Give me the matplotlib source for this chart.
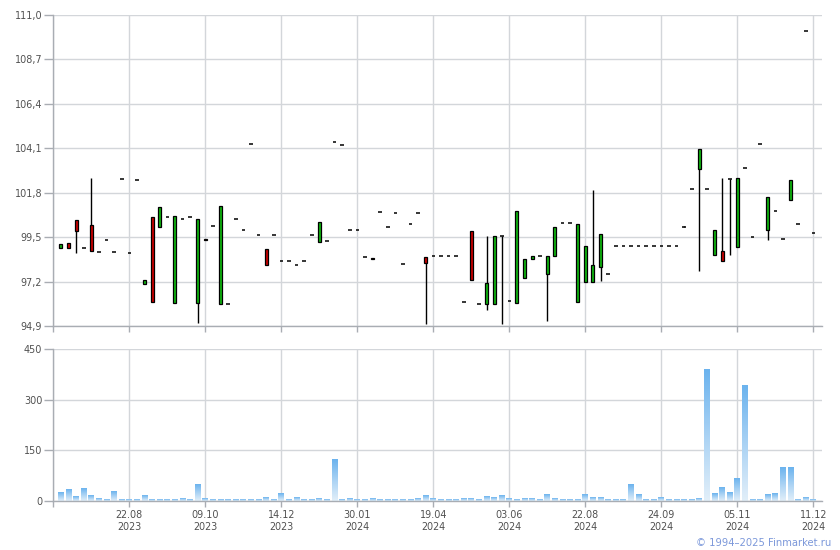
import numpy as np
import matplotlib
matplotlib.use("Agg")
import matplotlib.pyplot as plt
from matplotlib.colors import LinearSegmentedColormap

# ---------------- data ----------------
opens = [98.93, 99.19, 100.38, 98.93, 100.12, 98.72, 99.36, 98.72, 102.50, 98.67,
         102.45, 97.07, 100.53, 100.02, 100.53, 96.09, 100.43, 100.53, 96.09, 99.40,
         100.07, 96.04, 96.04, 100.43, 99.88, 104.31, 99.60, 98.88, 99.60, 98.26,
         98.26, 98.05, 98.26, 99.60, 99.24, 99.29, 104.41, 104.25, 99.86, 99.86,
         98.46, 98.42, 100.79, 100.02, 100.74, 98.14, 100.17, 100.74, 98.47, 98.52,
         98.55, 98.55, 98.55, 96.14, 99.81, 96.04, 96.04, 96.04, 99.59, 96.19,
         96.09, 97.38, 98.36, 98.55, 97.59, 98.55, 100.22, 100.22, 96.14, 97.17,
         97.17, 97.95, 97.59, 99.03, 99.03, 99.03, 99.03, 99.03, 99.03, 99.03,
         99.03, 99.03, 100.05, 102.00, 103.01, 102.00, 98.57, 98.78, 102.50, 98.98,
         103.07, 99.50, 104.31, 99.86, 100.84, 99.40, 101.41, 100.17, 110.14, 99.71]
highs = [99.14, 99.19, 100.38, 98.93, 102.55, 98.72, 99.36, 98.72, 102.50, 98.67,
         102.45, 97.28, 100.53, 101.05, 100.53, 100.62, 100.43, 100.53, 100.43, 99.40,
         100.07, 101.10, 96.04, 100.43, 99.88, 104.31, 99.60, 98.88, 99.60, 98.26,
         98.26, 98.05, 98.26, 99.60, 100.27, 99.29, 104.41, 104.25, 99.86, 99.86,
         98.46, 98.42, 100.79, 100.02, 100.74, 98.14, 100.17, 100.74, 98.47, 98.52,
         98.55, 98.55, 98.55, 96.14, 99.81, 96.04, 99.59, 99.59, 99.59, 96.19,
         100.84, 98.36, 98.55, 98.55, 98.55, 100.02, 100.22, 100.22, 100.17, 99.03,
         101.93, 99.65, 97.59, 99.03, 99.03, 99.03, 99.03, 99.03, 99.03, 99.03,
         99.03, 99.03, 100.10, 102.00, 104.05, 102.00, 99.86, 102.55, 102.50, 102.55,
         103.07, 99.50, 104.31, 101.57, 100.84, 99.40, 102.45, 100.17, 110.14, 99.71]
lows = [98.93, 98.93, 98.71, 98.93, 98.78, 98.72, 99.36, 98.72, 102.50, 98.67,
        102.45, 97.07, 96.14, 100.02, 100.53, 96.09, 100.43, 100.53, 95.09, 99.36,
        100.07, 96.04, 96.04, 100.43, 99.88, 104.31, 99.60, 98.05, 99.60, 98.26,
        98.26, 98.05, 98.26, 99.60, 99.24, 99.29, 104.41, 104.25, 99.86, 99.86,
        98.46, 98.38, 100.79, 100.02, 100.74, 98.14, 100.17, 100.74, 95.04, 98.52,
        98.55, 98.55, 98.55, 96.14, 97.28, 96.04, 95.76, 96.04, 95.04, 96.19,
        96.09, 97.38, 98.36, 98.55, 95.19, 98.55, 100.22, 100.22, 96.14, 97.17,
        97.17, 97.26, 97.59, 99.03, 99.03, 99.03, 99.03, 99.03, 99.03, 99.03,
        99.03, 99.03, 100.05, 102.00, 97.78, 102.00, 98.57, 98.26, 98.57, 98.98,
        103.07, 99.50, 104.31, 99.38, 100.84, 99.40, 101.41, 100.17, 110.14, 99.71]
closes = [99.14, 98.93, 99.81, 98.93, 98.78, 98.72, 99.36, 98.72, 102.50, 98.67,
          102.45, 97.28, 96.14, 101.05, 100.53, 100.62, 100.43, 100.53, 100.43, 99.36,
          100.07, 101.10, 96.04, 100.43, 99.88, 104.31, 99.60, 98.05, 99.60, 98.26,
          98.26, 98.05, 98.26, 99.60, 100.27, 99.29, 104.41, 104.25, 99.86, 99.86,
          98.46, 98.38, 100.79, 100.02, 100.74, 98.14, 100.17, 100.74, 98.16, 98.52,
          98.55, 98.55, 98.55, 96.14, 97.28, 96.04, 97.12, 99.59, 99.59, 96.19,
          100.84, 98.36, 98.55, 98.55, 98.55, 100.02, 100.22, 100.22, 100.17, 99.03,
          98.05, 99.65, 97.59, 99.03, 99.03, 99.03, 99.03, 99.03, 99.03, 99.03,
          99.03, 99.03, 100.05, 102.00, 104.05, 102.00, 99.86, 98.26, 102.50, 102.55,
          103.07, 99.50, 104.31, 101.57, 100.84, 99.40, 102.45, 100.17, 110.14, 99.71]
volumes = [24, 35, 12, 38, 15, 6, 3, 29, 3, 3,
           3, 15, 3, 3, 3, 3, 6, 3, 50, 6,
           3, 3, 3, 3, 3, 3, 3, 9, 3, 21,
           3, 9, 3, 3, 6, 3, 124, 3, 6, 3,
           3, 6, 3, 3, 3, 3, 3, 6, 15, 6,
           3, 3, 3, 6, 6, 3, 12, 9, 15, 6,
           3, 6, 6, 3, 18, 6, 3, 3, 3, 18,
           9, 9, 3, 3, 3, 50, 18, 3, 3, 9,
           3, 3, 3, 3, 6, 388, 21, 41, 24, 68,
           343, 3, 3, 18, 21, 98, 98, 3, 9, 3]
tick_pos = [9, 19, 29, 39, 49, 59, 69, 79, 89, 99]
tick_labels = ["22.08\n2023", "09.10\n2023", "14.12\n2023", "30.01\n2024",
               "19.04\n2024", "03.06\n2024", "22.08\n2024", "24.09\n2024",
               "05.11\n2024", "11.12\n2024"]
price_ticks = [94.9, 97.2, 99.5, 101.8, 104.1, 106.4, 108.7, 111.0]
vol_ticks = [0, 150, 300, 450]

# ---------------- style ----------------
GRID = "#d3d6da"
SPINE = "#a9adb3"
TXT = "#505050"
UP = "#10b810"
DOWN = "#cc0000"
FS = 6.9

fig = plt.figure(figsize=(8.4, 5.5), dpi=100)
ax1 = fig.add_axes([0.0635, 0.4067, 0.9147, 0.5666])
ax2 = fig.add_axes([0.0635, 0.0891, 0.9147, 0.2764])

x = np.arange(len(opens))
o = np.array(opens); h = np.array(highs); l = np.array(lows); c = np.array(closes)

for ax in (ax1, ax2):
    ax.set_xlim(-1.0, 100.1)
    for s in ("top", "right"):
        ax.spines[s].set_visible(False)
    for s in ("left", "bottom"):
        ax.spines[s].set_color(SPINE)
        ax.spines[s].set_linewidth(1.0)
    ax.set_axisbelow(True)
    ax.grid(True, color=GRID, linewidth=1.0)
    ax.set_xticks([-1.0] + tick_pos)
    ax.tick_params(axis="x", direction="out", length=4.3, width=1.0, color=SPINE,
                   labelsize=FS, labelcolor=TXT, pad=2)
    ax.tick_params(axis="y", direction="out", length=6.5, width=1.0, color=SPINE,
                   labelsize=FS, labelcolor=TXT, pad=1.5)

# ---- candles ----
ax1.set_ylim(94.9, 111.0)
ax1.set_yticks(price_ticks)
ax1.set_yticklabels([f"{v:.1f}".replace(".", ",") for v in price_ticks])
ax1.tick_params(axis="x", labelbottom=False)

wick = h > l
ax1.vlines(x[wick], l[wick], h[wick], color="black", linewidth=1.0, zorder=3)
body = o != c
cols = np.where(c >= o, UP, DOWN)
ax1.bar(x[body], np.abs(c - o)[body], bottom=np.minimum(o, c)[body], width=0.40,
        color=cols[body], edgecolor="black", linewidth=0.9, zorder=4)
flat = ~body
ax1.hlines(o[flat], x[flat] - 0.24, x[flat] + 0.24, color="black", linewidth=1.1, zorder=4)

# ---- volume ----
ax2.set_ylim(0, 450)
ax2.set_yticks(vol_ticks)
ax2.set_yticklabels([str(v) for v in vol_ticks])
ax2.set_xticklabels([""] + tick_labels, linespacing=1.25)

cmap = LinearSegmentedColormap.from_list("vol", ["#e2eff9", "#a9d2f4", "#6bb3ee"])
grad = np.linspace(0, 1, 128).reshape(-1, 1)
bw = 0.78
for xi, v in zip(x, volumes):
    ax2.imshow(grad, extent=(xi - bw / 2, xi + bw / 2, 0, v), origin="lower",
               cmap=cmap, aspect="auto", zorder=2, interpolation="bilinear")
ax2.set_xlim(-1.0, 100.1)
ax2.set_ylim(0, 450)

fig.text(0.989, 0.008, "\u00a9 1994\u20132025 Finmarket.ru", ha="right", va="baseline",
         fontsize=7.2, color="#7c98da")

fig.savefig("out.png", dpi=100)
